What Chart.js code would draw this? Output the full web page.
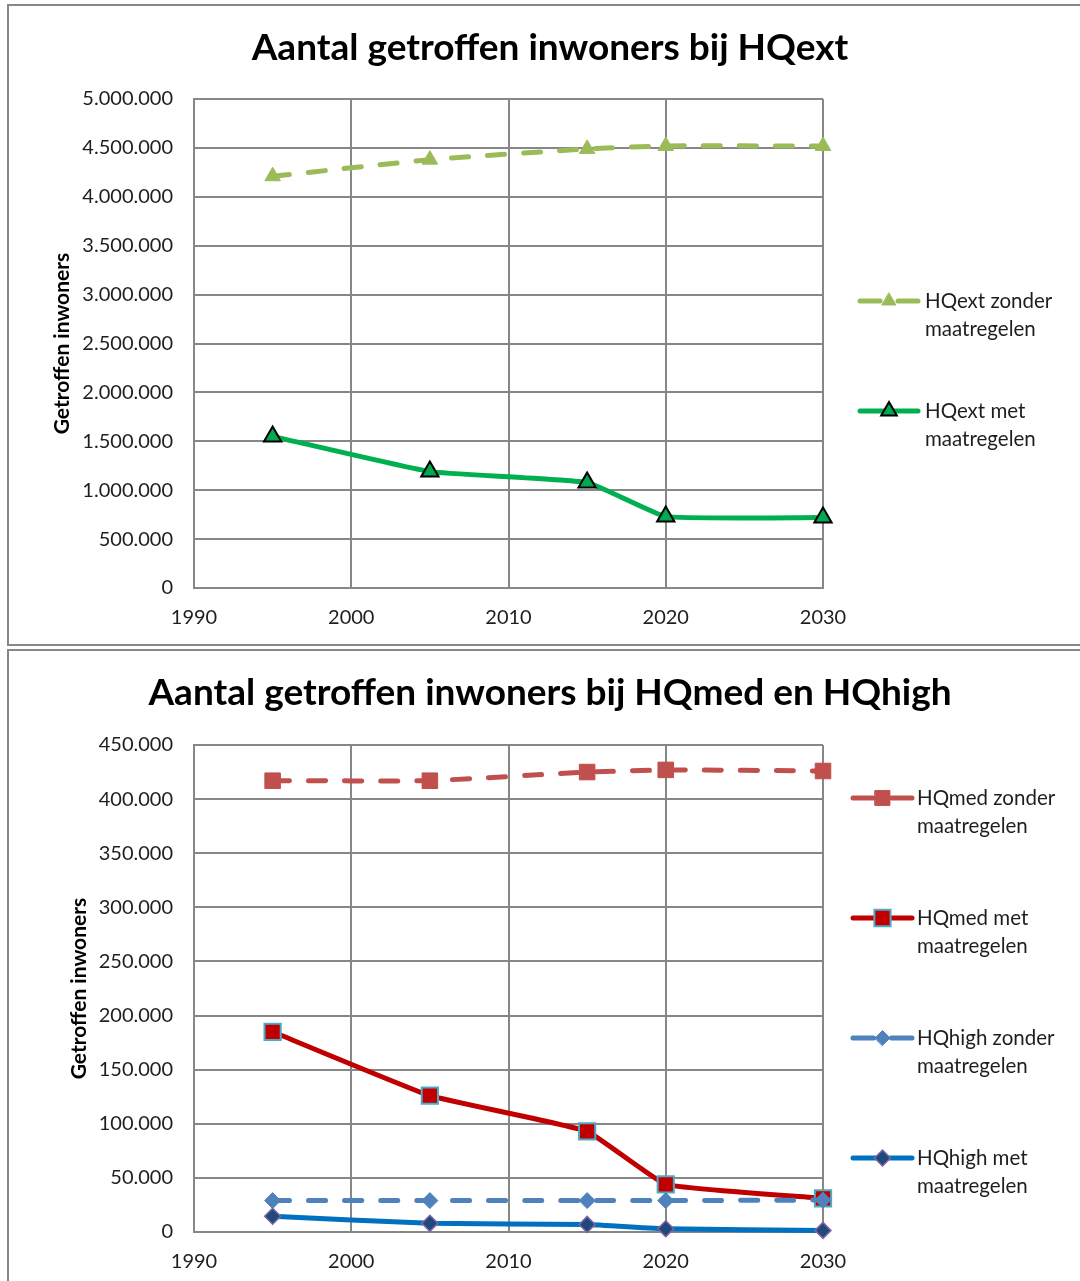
<!DOCTYPE html>
<html>
<head>
<meta charset="utf-8">
<script src="https://cdn.jsdelivr.net/npm/chart.js@4/dist/chart.umd.min.js"></script>
<style>
  html, body { margin: 0; padding: 0; background: #fff; overflow: hidden; width: 1080px; height: 1281px; }
  .frame { position: absolute; border: 2px solid #878787; box-sizing: border-box; pointer-events: none; }
  canvas { position: absolute; left: 0; }
</style>
</head>
<body>
<div class="frame" style="left:7px; top:4px; width:1100px; height:642px;"></div>
<div class="frame" style="left:7px; top:649px; width:1100px; height:700px;"></div>
<canvas id="ext" width="1100" height="646" style="top:0"></canvas>
<canvas id="medhigh" width="1100" height="635" style="top:646px"></canvas>
<script>
// Years of the scenario runs
const years = [1995, 2005, 2015, 2020, 2030];

// Affected inhabitants, extreme discharge (HQext)
const hqextZonder = [4210000, 4380000, 4490000, 4520000, 4520000];
const hqextMet    = [1550000, 1190000, 1080000, 730000, 720000];

// Affected inhabitants, medium and high discharge (HQmed, HQhigh)
const hqmedZonder  = [417000, 417000, 425000, 427000, 426000];
const hqmedMet     = [185000, 126000, 93000, 44000, 31000];
const hqhighZonder = [29000, 29000, 29000, 29000, 29500];
const hqhighMet    = [14500, 8000, 7000, 3000, 1500];

// Series labels (two lines each in the legend)
const labelsExt = [["HQext zonder", "maatregelen"], ["HQext met", "maatregelen"]];
const labelsMedHigh = [["HQmed zonder", "maatregelen"], ["HQmed met", "maatregelen"],
                       ["HQhigh zonder", "maatregelen"], ["HQhigh met", "maatregelen"]];

const FONT = "Lato, 'Open Sans', sans-serif";
const GRID = "#878787";
const TEXT = "#1e1e1e";

function pts(values) {
  return years.map((y, i) => ({ x: y, y: values[i] }));
}

// Dutch thousands separator
function fmt(v) {
  return String(Math.round(v)).replace(/\B(?=(\d{3})+(?!\d))/g, ".");
}

// Title centred over the chart object
const titlePlugin = {
  id: "chartTitle",
  afterDraw(chart, args, opts) {
    const ctx = chart.ctx;
    ctx.save();
    ctx.font = "bold " + opts.size + "px " + FONT;
    ctx.fillStyle = "#000";
    ctx.textAlign = "center";
    ctx.textBaseline = "middle";
    ctx.fillText(opts.text, opts.x, opts.y);
    ctx.restore();
  }
};

// Legend to the right of the plot, two text lines per series
const sideLegend = {
  id: "sideLegend",
  afterDraw(chart, args, opts) {
    const ctx = chart.ctx;
    chart.data.datasets.forEach((ds, i) => {
      const y = opts.top + i * opts.spacing;
      ctx.save();
      ctx.strokeStyle = ds.borderColor;
      ctx.lineWidth = ds.borderWidth;
      ctx.lineCap = "round";
      if (ds.borderDash && ds.borderDash.length) {
        const half = (opts.lineEnd - opts.lineStart) / 2;
        ctx.beginPath();
        ctx.moveTo(opts.lineStart, y);
        ctx.lineTo(opts.lineStart + half - 9, y);
        ctx.moveTo(opts.lineEnd - half + 9, y);
        ctx.lineTo(opts.lineEnd, y);
        ctx.stroke();
      } else {
        ctx.beginPath();
        ctx.moveTo(opts.lineStart, y);
        ctx.lineTo(opts.lineEnd, y);
        ctx.stroke();
      }
      ctx.fillStyle = ds.pointBackgroundColor;
      ctx.strokeStyle = ds.pointBorderColor;
      ctx.lineWidth = ds.pointBorderWidth;
      Chart.helpers.drawPoint(ctx, {
        pointStyle: ds.pointStyle,
        radius: ds.legendRadius,
        rotation: 0,
        borderWidth: ds.pointBorderWidth
      }, (opts.lineStart + opts.lineEnd) / 2, y);
      ctx.fillStyle = TEXT;
      ctx.font = opts.fontSize + "px " + FONT;
      ctx.textAlign = "left";
      ctx.textBaseline = "middle";
      ds.legendText.forEach((line, k) => {
        ctx.fillText(line, opts.textX, y + k * opts.lineHeight);
      });
      ctx.restore();
    });
  }
};

function series(label, values, color, opt) {
  return Object.assign({
    label: label.join(" "),
    legendText: label,
    data: pts(values),
    borderColor: color,
    borderWidth: 5,
    borderCapStyle: "round",
    borderJoinStyle: "round",
    tension: 0.1,
    pointBackgroundColor: color,
    pointBorderColor: color,
    pointBorderWidth: 1,
    clip: false
  }, opt);
}

function options(cfg) {
  return {
    responsive: false,
    animation: false,
    devicePixelRatio: 1,
    layout: { padding: { left: 0, top: 99, right: 277, bottom: 0 } },
    plugins: {
      legend: { display: false },
      tooltip: { enabled: false },
      chartTitle: cfg.title,
      sideLegend: cfg.legend
    },
    scales: {
      x: {
        type: "linear",
        min: 1990, max: 2030,
        afterFit(s) { s.height = cfg.xHeight; },
        ticks: { stepSize: 10, padding: 18, color: TEXT, font: { family: FONT, size: 20 },
                 callback: v => String(v), maxRotation: 0 },
        grid: { color: GRID, lineWidth: 2, drawTicks: false },
        border: { color: GRID, width: 2 }
      },
      y: {
        min: 0, max: cfg.yMax,
        afterFit(s) { s.width = 194; },
        ticks: { stepSize: cfg.yStep, padding: 21, color: TEXT, font: { family: FONT, size: 20 },
                 callback: v => fmt(v) },
        grid: { color: GRID, lineWidth: 2, drawTicks: false },
        border: { color: GRID, width: 2 },
        title: {
          display: true, text: "Getroffen inwoners", color: "#000",
          font: { family: FONT, size: 21, weight: "bold" },
          padding: { top: cfg.yTitlePad, bottom: 0 }
        }
      }
    }
  };
}

new Chart(document.getElementById("ext"), {
  type: "line",
  data: {
    datasets: [
      series(labelsExt[0], hqextZonder, "#9BBB59", {
        borderDash: [17, 19], pointStyle: "triangle", pointRadius: 9, legendRadius: 8, order: 2
      }),
      series(labelsExt[1], hqextMet, "#00B050", {
        pointStyle: "triangle", pointRadius: 10, legendRadius: 9, pointBackgroundColor: "#00A84F",
        pointBorderColor: "#000", pointBorderWidth: 2, order: 1
      })
    ]
  },
  options: options({
    title: { text: "Aantal getroffen inwoners bij HQext", x: 550, y: 48, size: 37 },
    legend: { top: 301, spacing: 110, lineStart: 860, lineEnd: 918, textX: 925, lineHeight: 28, fontSize: 20.5 },
    xHeight: 58, yMax: 5000000, yStep: 500000, yTitlePad: 50
  }),
  plugins: [titlePlugin, sideLegend]
});

new Chart(document.getElementById("medhigh"), {
  type: "line",
  data: {
    datasets: [
      series(labelsMedHigh[0], hqmedZonder, "#C0504D", {
        borderDash: [17, 19], pointStyle: "rect", pointRadius: 11, legendRadius: 10.5, order: 4
      }),
      series(labelsMedHigh[1], hqmedMet, "#C00000", {
        pointStyle: "rect", pointRadius: 11.5, legendRadius: 11.5, pointBorderColor: "#4BACC6",
        pointBorderWidth: 2, order: 3
      }),
      series(labelsMedHigh[2], hqhighZonder, "#4F81BD", {
        borderDash: [17, 19], pointStyle: "rectRot", pointRadius: 8, legendRadius: 7.5, order: 2
      }),
      series(labelsMedHigh[3], hqhighMet, "#0070C0", {
        pointStyle: "rectRot", pointRadius: 8, legendRadius: 8, pointBackgroundColor: "#1F497D",
        pointBorderColor: "#8064A2", pointBorderWidth: 1.5, order: 1
      })
    ]
  },
  options: options({
    title: { text: "Aantal getroffen inwoners bij HQmed en HQhigh", x: 550, y: 47, size: 37 },
    legend: { top: 152, spacing: 120, lineStart: 853, lineEnd: 912, textX: 917, lineHeight: 28, fontSize: 20.5 },
    xHeight: 49, yMax: 450000, yStep: 50000, yTitlePad: 67
  }),
  plugins: [titlePlugin, sideLegend]
});
</script>
</body>
</html>
